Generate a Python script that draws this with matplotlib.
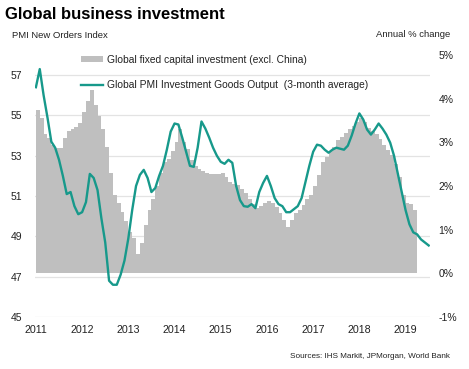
import numpy as np
import matplotlib.pyplot as plt

# Данные (помесячно, янв 2011 - ...)
pmi_start = 2011
pmi = [56.4, 57.3, 56.0, 54.9, 53.7, 53.4, 52.8, 52.0, 51.1, 51.2, 50.5, 50.1,
       50.2, 50.7, 52.1, 51.9, 51.3, 49.9, 48.7, 46.8, 46.6, 46.6, 47.1, 47.8,
       48.9, 50.3, 51.5, 52.05, 52.3, 51.9, 51.2, 51.4, 52.0, 52.5, 53.3, 54.2,
       54.6, 54.55, 53.9, 53.2, 52.5, 52.45, 53.4, 54.7, 54.35, 53.9, 53.4, 53.0,
       52.7, 52.6, 52.8, 52.65, 51.5, 50.8, 50.5, 50.47, 50.6, 50.4, 51.2, 51.65,
       52.0, 51.5, 50.9, 50.6, 50.5, 50.2, 50.2, 50.35, 50.5, 50.9, 51.7, 52.5,
       53.2, 53.55, 53.5, 53.3, 53.15, 53.3, 53.4, 53.35, 53.3, 53.5, 54.0, 54.6,
       55.1, 54.8, 54.3, 54.05, 54.3, 54.6, 54.35, 54.05, 53.65, 53.0, 52.1, 51.2,
       50.3, 49.6, 49.2, 49.1, 48.85, 48.7, 48.55]

invest = [3.75, 3.55, 3.2, 3.1, 2.95, 2.88, 2.86, 3.1, 3.25, 3.3, 3.35, 3.45,
          3.7, 3.95, 4.19, 3.85, 3.6, 3.3, 2.9, 2.3, 1.8, 1.6, 1.4, 1.2,
          0.95, 0.8, 0.45, 0.7, 1.1, 1.45, 1.7, 2.0, 2.3, 2.55, 2.62, 2.8,
          3.0, 3.3, 3.0, 2.85, 2.6, 2.45, 2.4, 2.35, 2.3, 2.28, 2.28, 2.28,
          2.3, 2.2, 2.1, 2.05, 2.02, 1.94, 1.83, 1.7, 1.58, 1.5, 1.55, 1.6,
          1.65, 1.6, 1.52, 1.38, 1.22, 1.07, 1.22, 1.38, 1.46, 1.56, 1.7, 1.8,
          2.0, 2.25, 2.55, 2.67, 2.8, 2.9, 3.05, 3.12, 3.22, 3.3, 3.38, 3.47,
          3.55, 3.47, 3.33, 3.26, 3.18, 3.08, 2.95, 2.82, 2.7, 2.5, 2.2, 1.8,
          1.62, 1.58, 1.45]

years = [2011, 2012, 2013, 2014, 2015, 2016, 2017, 2018, 2019]
left_ticks = [45, 47, 49, 51, 53, 55, 57]
right_ticks = [-1, 0, 1, 2, 3, 4, 5]
right_labels = ['-1%', '0%', '1%', '2%', '3%', '4%', '5%']

t_pmi = pmi_start + np.arange(len(pmi)) / 12
t_inv = pmi_start + np.arange(len(invest)) / 12

teal = '#17998b'
grey = '#bfbfbf'
txt = '#222222'
plt.rcParams['font.family'] = 'Liberation Sans'

fig = plt.figure(figsize=(4.69, 3.69), dpi=100)
ax = fig.add_axes([0.0746, 0.1409, 0.917 - 0.0746, 0.851 - 0.1409])
ax2 = ax.twinx()   # столбики (правая ось)
ax3 = ax.twinx()   # линия PMI поверх столбиков

# сетка на нижней оси
ax.set_ylim(45, 58)
ax.set_yticks(left_ticks)
ax.grid(axis='y', color='#e3e3e3', linewidth=0.9)
ax.tick_params(axis='y', length=0, pad=9, labelsize=7.5, labelcolor=txt)

ax2.bar(t_inv, invest, width=1/12, align='edge', color=grey,
        linewidth=0, antialiased=False,
        label='Global fixed capital investment (excl. China)')
ax2.set_ylim(-1, 5)
ax2.set_yticks(right_ticks)
ax2.set_yticklabels(right_labels)
ax2.tick_params(axis='y', length=0, pad=6, labelsize=7.5, labelcolor=txt)

ax3.plot(t_pmi, pmi, color=teal, linewidth=1.7,
         label='Global PMI Investment Goods Output  (3-month average)')
ax3.set_ylim(45, 58)
ax3.set_yticks([])

ax.set_xlim(2010.98, 2019.53)
ax.set_xticks(years)
ax.set_xticklabels([str(y) for y in years])
ax.tick_params(axis='x', length=0, pad=6, labelsize=7.7, labelcolor=txt)

for a in (ax, ax2, ax3):
    for s in a.spines.values():
        s.set_visible(False)

h2, l2 = ax2.get_legend_handles_labels()
h3, l3 = ax3.get_legend_handles_labels()
fig.legend(h2 + h3, l2 + l3, loc='upper left', bbox_to_anchor=(0.172, 0.852),
           frameon=False, fontsize=7.4, labelspacing=1.5, handlelength=2.15,
           handleheight=0.5, handletextpad=0.4, borderpad=0, borderaxespad=0,
           labelcolor=txt)

fig.text(0.011, 0.96, 'Global business investment', fontsize=12, fontweight='bold',
         va='center', ha='left', color='black')
fig.text(0.026, 0.905, 'PMI New Orders Index', fontsize=6.8, va='center', color=txt)
fig.text(0.96, 0.907, 'Annual % change', fontsize=6.8, va='center', ha='right', color=txt)
fig.text(0.96, 0.035, 'Sources: IHS Markit, JPMorgan, World Bank', fontsize=5.9,
         va='center', ha='right', color=txt)

plt.savefig('out.png', dpi=100)
